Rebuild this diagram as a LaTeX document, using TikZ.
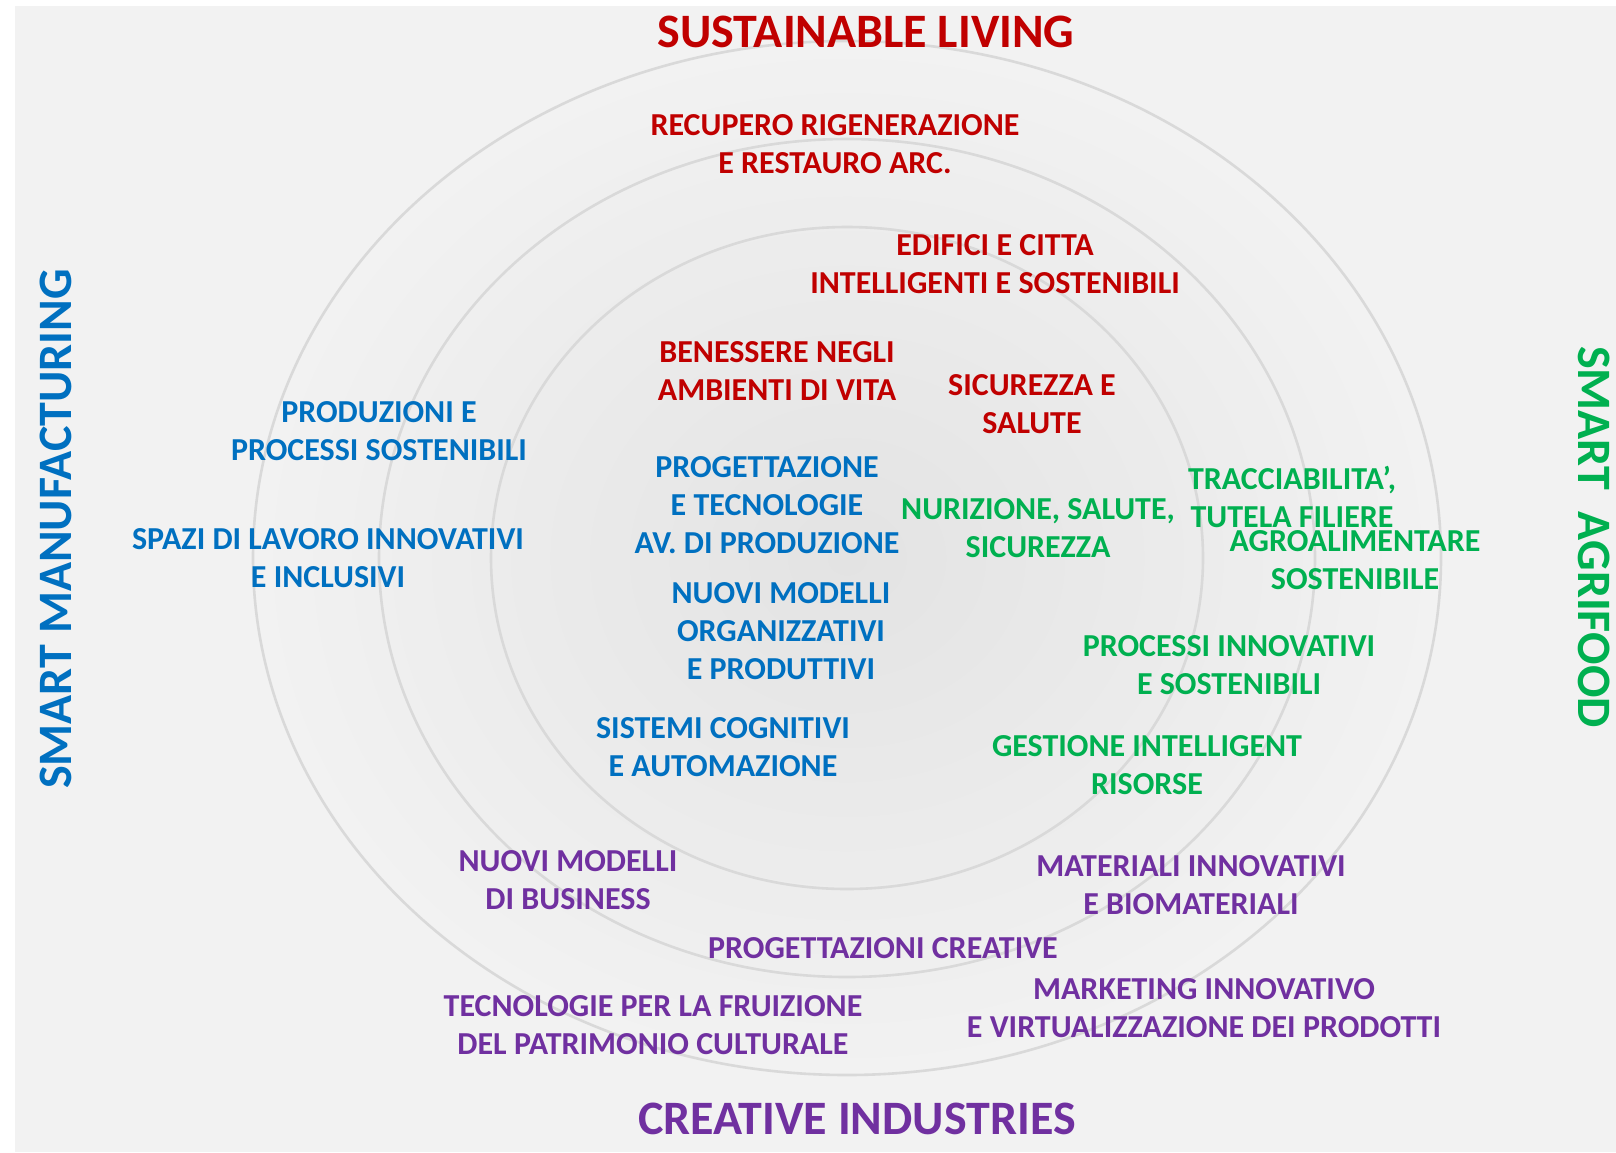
\documentclass[tikz,border=0pt]{standalone}
\usepackage{fontspec}
\setmainfont{Carlito}
\definecolor{livingred}{HTML}{C00000}
\definecolor{manufblue}{HTML}{0070C0}
\definecolor{agrigreen}{HTML}{00B050}
\definecolor{creativepurple}{HTML}{7030A0}
\definecolor{ringgray}{HTML}{D9D9D9}
\definecolor{bggray}{HTML}{F2F2F2}
\definecolor{coregray}{HTML}{E3E3E3}
\begin{document}
\begin{tikzpicture}[x=0.5pt, y=-0.5pt,
  area/.style={inner sep=0pt, font=\fontsize{24}{29}\selectfont\bfseries},
  topic/.style={inner sep=0pt, align=center, font=\fontsize{16}{19}\selectfont\bfseries}]
  \useasboundingbox (0,0) rectangle (1616,1152);
  % background
  \fill [bggray] (15,6) rectangle (1616,1152);
  \shade [inner color=coregray, outer color=bggray] (847,558) ellipse (594 and 517);
  % rings
  \foreach \rx/\ry in {594/517, 468/419, 356/331} {
    \draw [ringgray, line width=1.3pt] (847,558) ellipse ({\rx} and {\ry});
  };
  % areas
  \node [area, livingred] (living) at (866,32) {SUSTAINABLE LIVING};
  \node [area, creativepurple] (creative) at (857,1119) {CREATIVE INDUSTRIES};
  \node [area, manufblue, rotate=90] (manuf) at (56,529) {SMART MANUFACTURING};
  \node [area, agrigreen, rotate=-90] (agri) at (1594,537) {SMART\ \ AGRIFOOD};
  % sustainable living
  \node [topic, livingred] (recupero) at (835,144) {RECUPERO RIGENERAZIONE\\E RESTAURO ARC.};
  \node [topic, livingred] (edifici) at (995,264) {EDIFICI E CITTA\\INTELLIGENTI E SOSTENIBILI};
  \node [topic, livingred] (benessere) at (777,371) {BENESSERE NEGLI\\AMBIENTI DI VITA};
  \node [topic, livingred] (sicurezza) at (1032,404) {SICUREZZA E\\SALUTE};
  % smart manufacturing
  \node [topic, manufblue] (produzioni) at (379,431) {PRODUZIONI E\\PROCESSI SOSTENIBILI};
  \node [topic, manufblue] (spazi) at (328,558) {SPAZI DI LAVORO INNOVATIVI\\E INCLUSIVI};
  \node [topic, manufblue] (progettazione) at (767,505) {PROGETTAZIONE\\E TECNOLOGIE\\AV. DI PRODUZIONE};
  \node [topic, manufblue] (modelli) at (781,631) {NUOVI MODELLI\\ORGANIZZATIVI\\E PRODUTTIVI};
  \node [topic, manufblue] (sistemi) at (723,747) {SISTEMI COGNITIVI\\E AUTOMAZIONE};
  % smart agrifood
  \node [topic, agrigreen] (nutrizione) at (1038,528) {NURIZIONE, SALUTE,\\SICUREZZA};
  \node [topic, agrigreen] (tracciabilita) at (1292,497) {TRACCIABILITA’,\\TUTELA FILIERE};
  \node [topic, agrigreen] (agroalimentare) at (1355,560) {AGROALIMENTARE\\SOSTENIBILE};
  \node [topic, agrigreen] (processi) at (1229,665) {PROCESSI INNOVATIVI\\E SOSTENIBILI};
  \node [topic, agrigreen] (gestione) at (1147,765) {GESTIONE INTELLIGENT\\RISORSE};
  % creative industries
  \node [topic, creativepurple] (business) at (568,880) {NUOVI MODELLI\\DI BUSINESS};
  \node [topic, creativepurple] (materiali) at (1191,885) {MATERIALI INNOVATIVI\\E BIOMATERIALI};
  \node [topic, creativepurple] (progcreative) at (883,948) {PROGETTAZIONI CREATIVE};
  \node [topic, creativepurple] (fruizione) at (653,1025) {TECNOLOGIE PER LA FRUIZIONE\\DEL PATRIMONIO CULTURALE};
  \node [topic, creativepurple] (marketing) at (1204,1008) {MARKETING INNOVATIVO\\E VIRTUALIZZAZIONE DEI PRODOTTI};
\end{tikzpicture}
\end{document}
